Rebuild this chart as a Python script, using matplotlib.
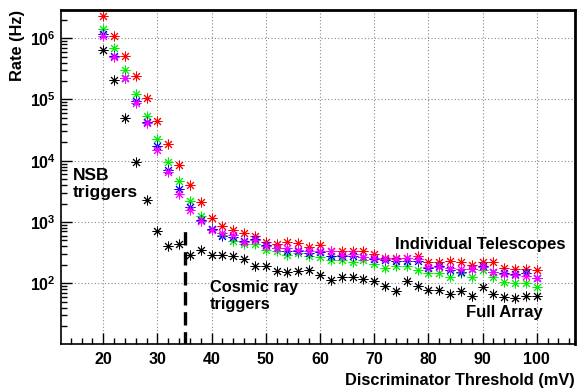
import numpy as np
import matplotlib
matplotlib.use("Agg")
import matplotlib.pyplot as plt
from matplotlib.ticker import LogLocator, MultipleLocator, NullFormatter

plt.rcParams['font.family'] = ['Liberation Sans', 'DejaVu Sans']
plt.rcParams['font.weight'] = 'bold'
plt.rcParams['mathtext.default'] = 'bf'

# discriminator threshold (mV)
threshold = np.arange(20, 101, 2)

# trigger rates (Hz)
rate_red = [2.3e6, 1.08e6, 5.1e5, 2.4e5, 1.07e5, 4.5e4, 1.86e4, 8.5e3, 4.0e3, 2.1e3,
            1180, 870, 740, 660, 600, 470, 440, 470, 460, 390,
            420, 340, 330, 330, 330, 300, 255, 260, 260, 280,
            225, 220, 235, 220, 200, 225, 220, 175, 170, 170, 165]
rate_green = [1.4e6, 6.8e5, 3.0e5, 1.22e5, 5.3e4, 2.3e4, 9.4e3, 4.6e3, 2.2e3, 1250,
              780, 620, 490, 440, 440, 350, 330, 290, 310, 280,
              270, 240, 240, 225, 240, 205, 175, 190, 190, 165,
              145, 145, 125, 145, 125, 165, 125, 103, 100, 100, 88]
rate_blue = [1.15e6, 5.2e5, 2.25e5, 9.3e4, 4.3e4, 1.74e4, 7.0e3, 3.5e3, 1740, 1070,
             760, 590, 560, 490, 520, 420, 380, 340, 330, 310,
             320, 280, 280, 280, 265, 250, 240, 235, 230, 230,
             180, 190, 165, 155, 170, 190, 150, 145, 140, 145, 120]
rate_magenta = [1.08e6, 4.95e5, 2.2e5, 8.9e4, 4.1e4, 1.52e4, 6.6e3, 2.9e3, 1570, 1050,
                750, 650, 610, 480, 500, 410, 370, 370, 350, 340,
                330, 330, 290, 300, 270, 255, 250, 245, 255, 250,
                185, 185, 175, 170, 170, 185, 155, 140, 135, 130, 120]
rate_array = [6.5e5, 2.1e5, 5.0e4, 9.5e3, 2.3e3, 710, 410, 430, 290, 350,
              285, 290, 275, 250, 190, 190, 160, 155, 160, 165,
              137, 113, 125, 125, 118, 110, 91, 76, 107, 91,
              78, 78, 67, 76, 61, 86, 67, 59, 57, 61, 61]

fig = plt.figure(figsize=(5.81, 3.88), dpi=100)
ax = fig.add_axes([0.105, 0.113, 0.885, 0.861])

star = (8, 2, 0)
for rates, col in [(rate_array, 'black'), (rate_red, 'red'), (rate_green, '#00ee00'),
                   (rate_blue, 'blue'), (rate_magenta, 'magenta')]:
    ax.plot(threshold, rates, linestyle='none', marker=star, markersize=7,
            markeredgewidth=0.7, color=col)

# cut between NSB and cosmic ray triggers
ax.plot([35, 35], [10, 830], color='black', linewidth=2.4, linestyle=(0, (4, 2)))

ax.set_yscale('log')
ax.set_xlim(12.2, 107.1)
ax.set_ylim(10.15, 2.87e6)

ax.xaxis.set_major_locator(MultipleLocator(10))
ax.xaxis.set_minor_locator(MultipleLocator(2))
ax.yaxis.set_major_locator(LogLocator(base=10, numticks=10))
ax.yaxis.set_minor_locator(LogLocator(base=10, subs=np.arange(2, 10), numticks=10))
ax.yaxis.set_minor_formatter(NullFormatter())
ax.tick_params(which='both', direction='in', top=False, right=False, labelsize=11.5)
ax.tick_params(which='major', length=8, width=1)
ax.tick_params(which='minor', length=4, width=1)
ax.tick_params(axis='x', pad=6)
for lab in ax.get_xticklabels() + ax.get_yticklabels():
    lab.set_fontweight('bold')

ax.grid(True, which='major', color='#888888', linestyle=(0, (1, 2)), linewidth=0.8)
for s in ax.spines.values():
    s.set_linewidth(1.2)
ax.spines['top'].set_linewidth(2)
ax.spines['right'].set_linewidth(2)

ax.set_xlabel('Discriminator Threshold (mV)', fontsize=11.8, fontweight='bold', loc='right')
ax.set_ylabel('Rate (Hz)', fontsize=11.8, fontweight='bold', loc='top')

ax.text(14.4, 7.6e3, 'NSB\ntriggers', fontsize=12.5, fontweight='bold', va='top', ha='left',
        linespacing=1.15)
ax.text(39.7, 113, 'Cosmic ray\ntriggers', fontsize=11.8, fontweight='bold', va='top', ha='left',
        linespacing=1.2)
ax.text(73.8, 567, 'Individual Telescopes', fontsize=12, fontweight='bold', va='top', ha='left')
ax.text(86.9, 44, 'Full Array', fontsize=12, fontweight='bold', va='top', ha='left')

fig.savefig('out.png', dpi=100)
